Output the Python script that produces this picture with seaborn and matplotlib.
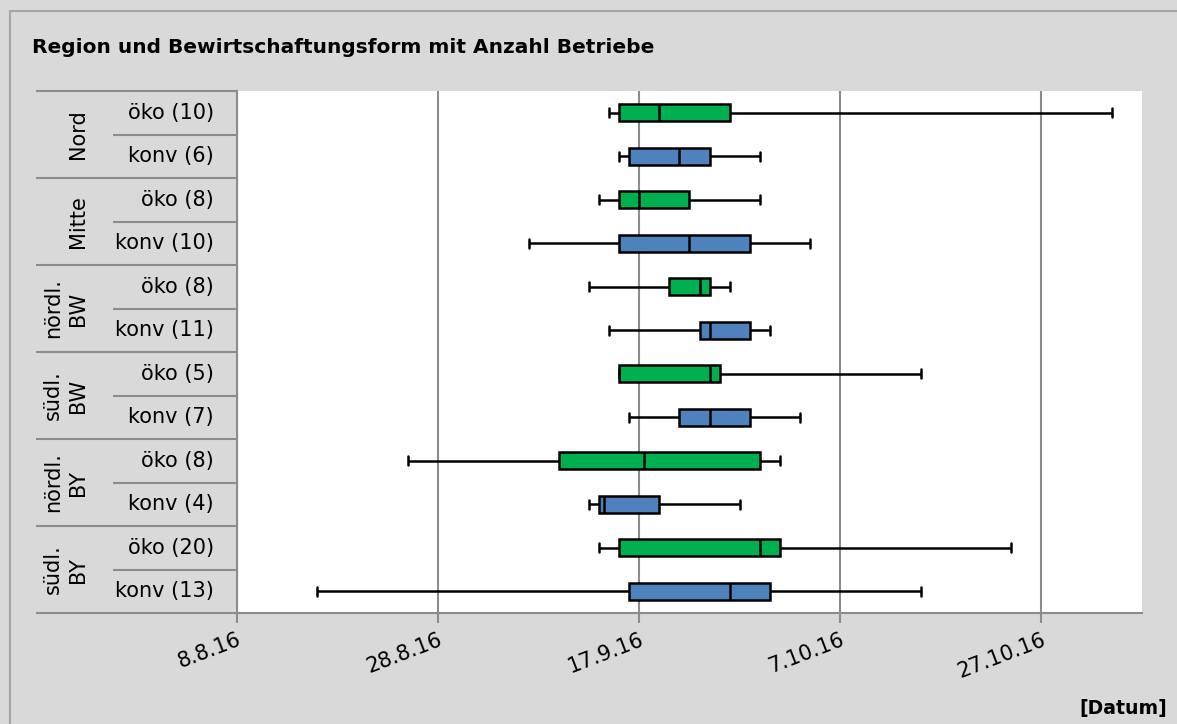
import datetime as dt

import matplotlib
matplotlib.use("Agg")
import matplotlib.pyplot as plt
import matplotlib.dates as mdates
from matplotlib.lines import Line2D
from matplotlib.ticker import FixedLocator, FuncFormatter
import numpy as np
import pandas as pd
import seaborn as sns

# ---- data -------------------------------------------------------------
regions = ["Nord", "Mitte", "nördl.\nBW", "südl.\nBW", "nördl.\nBY", "südl.\nBY"]
group_labels = ["öko (10)", "konv (6)", "öko (8)", "konv (10)", "öko (8)", "konv (11)",
                "öko (5)", "konv (7)", "öko (8)", "konv (4)", "öko (20)", "konv (13)"]
forms = ["öko", "konv"] * 6

minimum = ["2016-09-14", "2016-09-15", "2016-09-13", "2016-09-06", "2016-09-12", "2016-09-14",
           "2016-09-15", "2016-09-16", "2016-08-25", "2016-09-12", "2016-09-13", "2016-08-16"]
quartile1 = ["2016-09-15", "2016-09-16", "2016-09-15", "2016-09-15", "2016-09-20", "2016-09-23",
             "2016-09-15", "2016-09-21", "2016-09-09", "2016-09-13", "2016-09-15", "2016-09-16"]
median = ["2016-09-19", "2016-09-21", "2016-09-17", "2016-09-22", "2016-09-23", "2016-09-24",
          "2016-09-24", "2016-09-24", "2016-09-17 12:00", "2016-09-13 12:00", "2016-09-29", "2016-09-26"]
quartile3 = ["2016-09-26", "2016-09-24", "2016-09-22", "2016-09-28", "2016-09-24", "2016-09-28",
             "2016-09-25", "2016-09-28", "2016-09-29", "2016-09-19", "2016-10-01", "2016-09-30"]
maximum = ["2016-11-03", "2016-09-29", "2016-09-29", "2016-10-04", "2016-09-26", "2016-09-30",
           "2016-10-15", "2016-10-03", "2016-10-01", "2016-09-27", "2016-10-24", "2016-10-15"]

tick_dates = ["2016-08-08", "2016-08-28", "2016-09-17", "2016-10-07", "2016-10-27"]
x_range = ["2016-08-08", "2016-11-06"]

palette = {"öko": "#00b050", "konv": "#4f81bd"}


def to_num(s):
    return mdates.date2num(pd.Timestamp(s).to_pydatetime())


# ---- long-form table: the five summary points of every group ----------
rows = []
for i in range(len(group_labels)):
    for v in (minimum[i], quartile1[i], median[i], quartile3[i], maximum[i]):
        rows.append({"Gruppe": f"g{i}", "Form": forms[i], "Datum": to_num(v)})
df = pd.DataFrame(rows)
order = [f"g{i}" for i in range(len(group_labels))]

# ---- figure -----------------------------------------------------------
W, H = 1177, 724
sns.set_theme(style="white")
plt.rcParams["font.family"] = ["DejaVu Sans"]
plt.rcParams["text.color"] = "black"
plt.rcParams["xtick.color"] = "black"
plt.rcParams["xtick.labelcolor"] = "black"
GRAY = "#8c8c8c"

fig = plt.figure(figsize=(W / 100, H / 100), dpi=100)
fig.patch.set_facecolor("#d9d9d9")


def px_box(x0, y0, x1, y1):
    return [x0 / W, 1 - y1 / H, (x1 - x0) / W, (y1 - y0) / H]


ax = fig.add_axes(px_box(237, 91, 1142, 613))
lab = fig.add_axes(px_box(36, 91, 237, 613))

sns.boxplot(data=df, x="Datum", y="Gruppe", hue="Form", order=order,
            palette=palette, saturation=1, dodge=False, width=0.4,
            whis=(0, 100), linecolor="black", linewidth=1.8, legend=False,
            ax=ax)

ax.set_facecolor("white")
ax.set_ylim(len(order) - 0.5, -0.5)
ax.set_xlim(to_num(x_range[0]), to_num(x_range[1]))
ax.xaxis.set_major_locator(FixedLocator([to_num(d) for d in tick_dates]))
ax.xaxis.set_major_formatter(FuncFormatter(
    lambda v, _: (lambda d: f"{d.day}.{d.month}.{d:%y}")(mdates.num2date(v))))
ax.grid(axis="x", color=GRAY, linewidth=1.5)
ax.grid(axis="y", visible=False)
ax.set_axisbelow(True)
ax.set_yticks([])
ax.set_xlabel("")
ax.set_ylabel("")
for side in ("top", "right"):
    ax.spines[side].set_visible(False)
for side in ("left", "bottom"):
    ax.spines[side].set_color(GRAY)
    ax.spines[side].set_linewidth(1.5)
ax.tick_params(axis="x", bottom=True, length=7, width=1.5, color=GRAY,
               labelcolor="black", labelsize=15, pad=5)
for t in ax.get_xticklabels():
    t.set_rotation(21)
    t.set_ha("right")
    t.set_va("top")
    t.set_rotation_mode("anchor")

# ---- label table on the left -----------------------------------------
lab.set_xlim(0, 201)
lab.set_ylim(len(order) - 0.5, -0.5)
lab.axis("off")
for k in range(len(order) + 1):
    x0 = 0 if k % 2 == 0 else 77
    lab.plot([x0, 201], [k - 0.5, k - 0.5], color=GRAY, lw=1.5,
             solid_capstyle="butt", clip_on=False)
for i, txt in enumerate(group_labels):
    lab.text(178, i, txt, ha="right", va="center", fontsize=15, color="black")
for r, reg in enumerate(regions):
    lab.text(52, 2 * r + 0.5, reg, rotation=90, rotation_mode="anchor",
             ha="center", va="bottom", fontsize=15, linespacing=1.3,
             multialignment="center", color="black")

# ---- frame, title and axis caption ------------------------------------
fig.add_artist(Line2D([10 / W, 1], [1 - 11 / H, 1 - 11 / H], color="#a6a6a6",
                      lw=1.5, transform=fig.transFigure))
fig.add_artist(Line2D([10 / W, 10 / W], [0, 1 - 11 / H], color="#a6a6a6",
                      lw=1.5, transform=fig.transFigure))
fig.text(32 / W, 1 - 53 / H, "Region und Bewirtschaftungsform mit Anzahl Betriebe",
         fontsize=14.5, fontweight="bold", ha="left", va="baseline",
         color="black")
fig.text(1167 / W, 1 - 714 / H, "[Datum]", fontsize=13.6, fontweight="bold",
         ha="right", va="baseline", color="black")

fig.savefig("out.png", dpi=100, facecolor=fig.get_facecolor())
